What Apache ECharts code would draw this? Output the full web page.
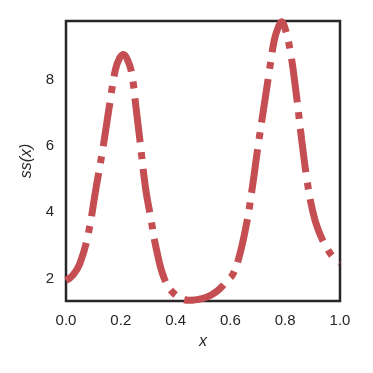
<!DOCTYPE html>
<html>
<head>
<meta charset="utf-8">
<script src="https://cdn.jsdelivr.net/npm/echarts@6/dist/echarts.min.js"></script>
<style>html,body{margin:0;padding:0;background:#fff;}#c{width:373px;height:373px;}</style>
</head>
<body>
<div id="c"></div>
<script>
const xs = [0, 0.025, 0.05, 0.08, 0.11, 0.135, 0.16, 0.18, 0.195, 0.21, 0.225, 0.24, 0.255, 0.27, 0.29, 0.31, 0.33, 0.36, 0.40, 0.45, 0.50, 0.53, 0.56, 0.59, 0.61, 0.635, 0.66, 0.68, 0.70, 0.72, 0.74, 0.76, 0.775, 0.787, 0.80, 0.82, 0.84, 0.86, 0.88, 0.90, 0.92, 0.95, 0.975, 1.0];
const ys = [1.94, 2.1, 2.44, 3.3, 4.75, 5.95, 7.3, 8.3, 8.65, 8.77, 8.6, 8.2, 7.2, 6.16, 4.75, 3.8, 2.88, 1.97, 1.5, 1.34, 1.4, 1.5, 1.68, 1.95, 2.14, 2.75, 3.7, 4.75, 5.95, 7.06, 8.15, 9.2, 9.6, 9.76, 9.55, 8.8, 7.6, 6.2, 4.95, 4.05, 3.48, 2.95, 2.65, 2.48];
const xTicks = [0, 0.2, 0.4, 0.6, 0.8, 1.0];
const yTicks = [2, 4, 6, 8];

const chart = echarts.init(document.getElementById('c'), null, {renderer: 'canvas'});
const txt = '#262626';
const font = 'Liberation Sans, Arial, sans-serif';
chart.setOption({
  animation: false,
  grid: {left: 66, right: 33, top: 21, bottom: 72, show: true, borderColor: '#262626', borderWidth: 2.5, backgroundColor: 'transparent'},
  xAxis: {
    type: 'value', min: 0, max: 1,
    name: 'x', nameLocation: 'middle', nameGap: 33,
    nameTextStyle: {color: txt, fontSize: 16, fontStyle: 'italic', fontFamily: font},
    axisLine: {show: false}, axisTick: {show: false}, splitLine: {show: false},
    axisLabel: {customValues: xTicks, color: txt, fontSize: 15, fontFamily: font, margin: 12, formatter: v => v.toFixed(1)}
  },
  yAxis: {
    type: 'value', min: 1.32, max: 9.78,
    name: 'ss(x)', nameLocation: 'middle', nameGap: 30, nameRotate: 90,
    nameTextStyle: {color: txt, fontSize: 16, fontStyle: 'italic', fontFamily: font},
    axisLine: {show: false}, axisTick: {show: false}, splitLine: {show: false},
    axisLabel: {customValues: yTicks, color: txt, fontSize: 15, fontFamily: font, margin: 12, formatter: v => String(v)}
  },
  series: [{
    type: 'line',
    data: xs.map((x, i) => [x, ys[i]]),
    smooth: 0.4,
    showSymbol: false,
    clip: true,
    lineStyle: {color: '#C44E52', width: 7, type: [44, 10, 7, 10], cap: 'butt'}
  }]
});
</script>
</body>
</html>
